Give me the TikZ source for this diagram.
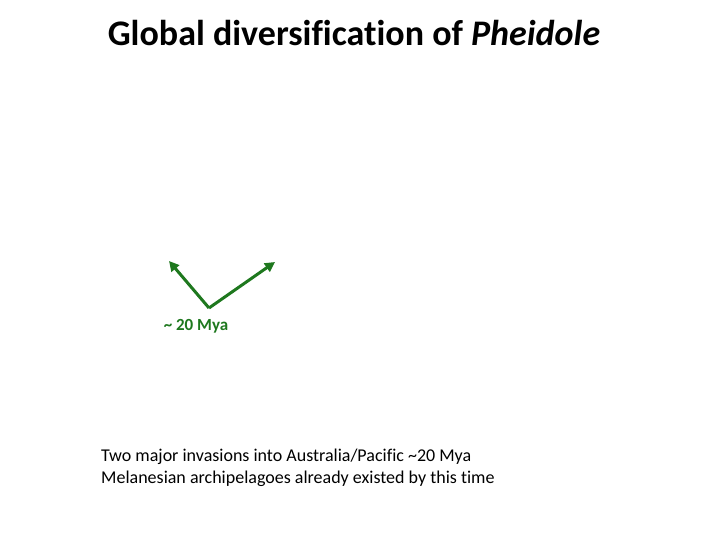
\documentclass[tikz,border=0pt]{standalone}
\usepackage{fontspec}
\setmainfont{Carlito}[Ligatures=NoCommon]
\usetikzlibrary{positioning, arrows.meta}
\definecolor{arrowgreen}{RGB}{30,120,30}

\begin{document}
\begin{tikzpicture} [x=1pt, y=-1pt, inner sep=0pt,
    branch/.style={draw=arrowgreen, line width=3pt, -{Triangle[length=10pt, width=10pt]}}]
  \useasboundingbox (0,0) rectangle (720,540);

  \draw (354,33) node[font=\fontsize{36}{40}\selectfont\bfseries] (title) {Global diversification of \textit{Pheidole}};

  \coordinate (root) at (209,308);
  \coordinate (west) at (169,261);
  \coordinate (east) at (275,262);
  \draw (196,326) node[color=arrowgreen, font=\fontsize{17}{20}\selectfont\bfseries] (age) {\textasciitilde{} 20 Mya};

  \path (root) edge[branch] (west)
        (root) edge[branch] (east);

  \draw (101,468) node[anchor=west, align=left, font=\fontsize{18}{22}\selectfont] (note) {Two major invasions into Australia/Pacific \textasciitilde20 Mya\\ Melanesian archipelagoes already existed by this time};
\end{tikzpicture}
\end{document}
